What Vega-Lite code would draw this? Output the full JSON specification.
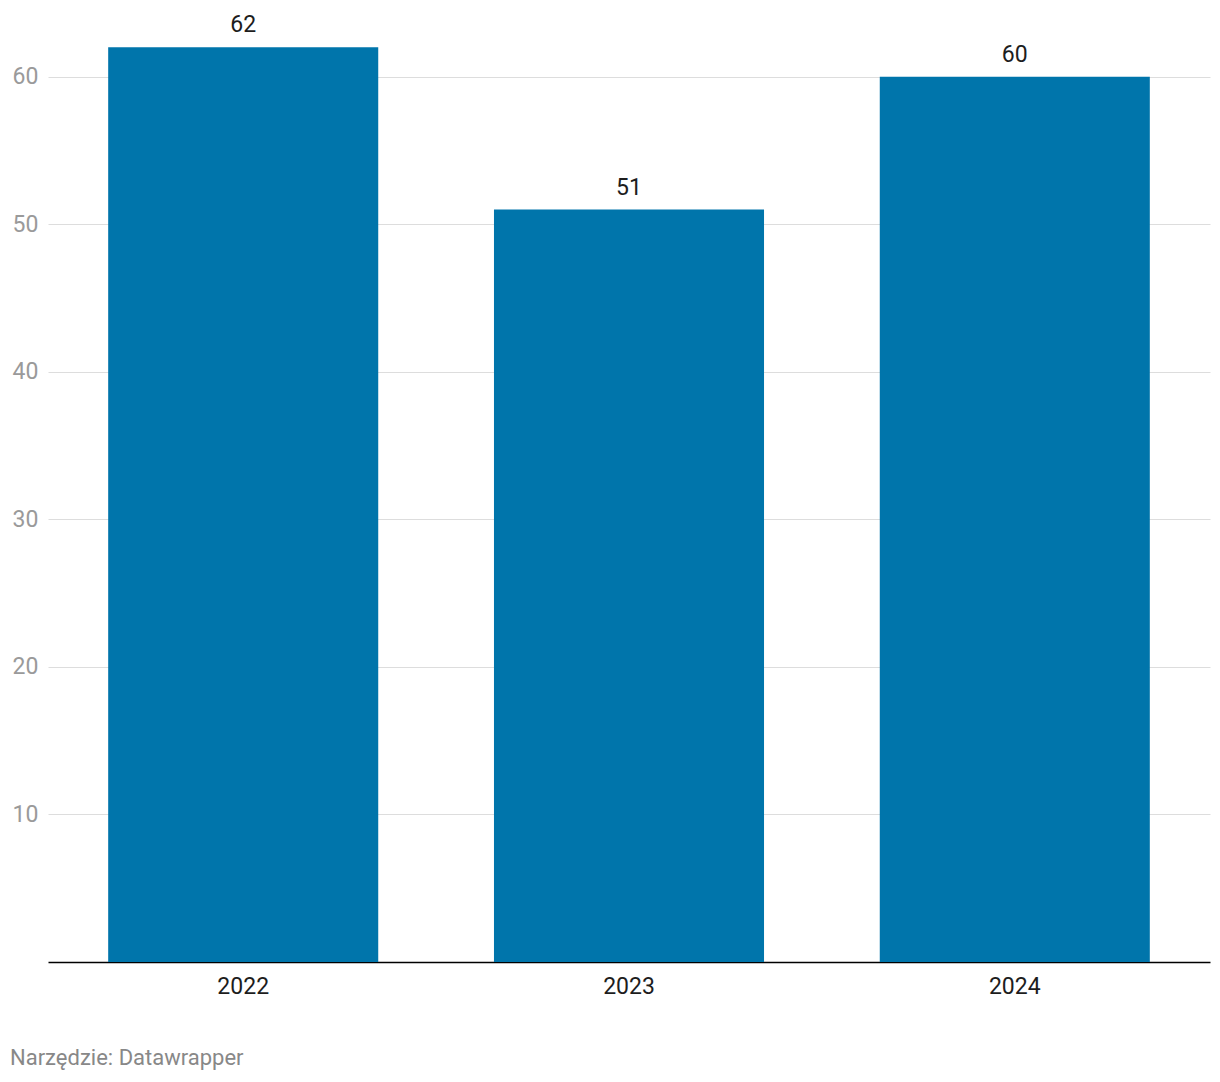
{
  "$schema": "https://vega.github.io/schema/vega-lite/v6.json",
  "width": 1162,
  "height": 959,
  "autosize": {"type": "none"},
  "padding": {"left": 48, "top": 3, "right": 10, "bottom": 120},
  "background": "white",
  "config": {"view": {"stroke": null}, "font": "Roboto"},
  "title": {
    "text": "Narzędzie: Datawrapper",
    "orient": "bottom",
    "anchor": "start",
    "dx": -2,
    "offset": 50,
    "fontSize": 22,
    "fontWeight": "normal",
    "color": "#888888",
    "font": "Roboto"
  },
  "data": {
    "values": [
      {"year": "2022", "value": 62},
      {"year": "2023", "value": 51},
      {"year": "2024", "value": 60}
    ]
  },
  "encoding": {
    "x": {
      "field": "year",
      "type": "nominal",
      "sort": null,
      "scale": {"paddingInner": 0.3, "paddingOuter": 0.156},
      "axis": {
        "title": null,
        "labelAngle": 0,
        "labelFontSize": 23,
        "labelColor": "#1d1d1d",
        "labelPadding": 13,
        "ticks": false,
        "domainColor": "#000000",
        "domainWidth": 1.5,
        "grid": false
      }
    },
    "y": {
      "field": "value",
      "type": "quantitative",
      "scale": {"domain": [0, 65], "nice": false},
      "axis": {
        "title": null,
        "values": [10, 20, 30, 40, 50, 60],
        "labelAlign": "left",
        "labelPadding": 36,
        "labelFontSize": 23,
        "labelColor": "#9a9a9a",
        "ticks": false,
        "domain": false,
        "gridColor": "#dddddd",
        "gridWidth": 1
      }
    }
  },
  "layer": [
    {"mark": {"type": "bar", "color": "#0075ab"}},
    {
      "mark": {"type": "text", "dy": -22, "fontSize": 23, "color": "#1d1d1d", "font": "Roboto"},
      "encoding": {"text": {"field": "value", "type": "quantitative"}}
    }
  ]
}
